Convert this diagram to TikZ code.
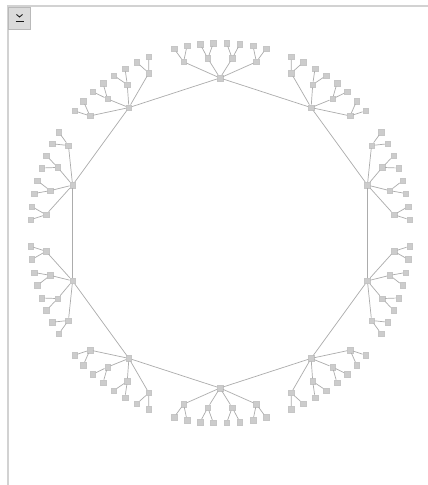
\documentclass[tikz,border=0pt]{standalone}
\usepackage{tikz}
\usetikzlibrary{calc}

\begin{document}
\begin{tikzpicture}[x=1pt, y=1pt,
dot/.style={draw=gray!45, fill=gray!40, minimum size=5.5pt, inner sep=0pt},
link/.style={draw=gray!65, line width=0.7pt},
frame/.style={draw=gray!35, line width=1.6pt}]
\useasboundingbox (0,0) rectangle (428,485);
\fill[white] (0,0) rectangle (428,485);
% window edge and the small button
\draw[frame] (7,479) -- (428,479);
\draw[frame] (8,479) -- (8,0);
\node[draw=gray!55, fill=gray!28, minimum width=22pt, minimum height=22pt, inner sep=0pt] (btn) at (19.5,467) {};
\draw[gray!20!black, line width=0.9pt] ($(btn.center)+(-3,3.5)$) -- ($(btn.center)+(0,1)$) -- ($(btn.center)+(3,3.5)$);
\draw[gray!20!black, line width=1pt] ($(btn.center)+(-4,-4)$) -- ($(btn.center)+(4,-4)$);
% radial tree
\coordinate (ctr) at (220,252);
\foreach \i in {0,...,9} {
  \pgfmathsetmacro{\a}{90-36*\i}
  \node[dot] (h\i) at ($(ctr)+(\a:155)$) {};
  \foreach \j/\d in {1/-12,2/-4,3/4,4/12} {
    \node[dot] (c\i\j) at ($(ctr)+(\a+\d:175)$) {};
    \node[dot] (l\i\j a) at ($(ctr)+(\a+\d-2:190)$) {};
    \node[dot] (l\i\j b) at ($(ctr)+(\a+\d+2:190)$) {};
    \draw[link] (h\i) -- (c\i\j);
    \draw[link] (c\i\j) -- (l\i\j a);
    \draw[link] (c\i\j) -- (l\i\j b);
  }
}
\foreach \i [evaluate=\i as \k using {int(mod(\i+1,10))}] in {0,...,9}
  \draw[link] (h\i) -- (h\k);
\end{tikzpicture}
\end{document}
